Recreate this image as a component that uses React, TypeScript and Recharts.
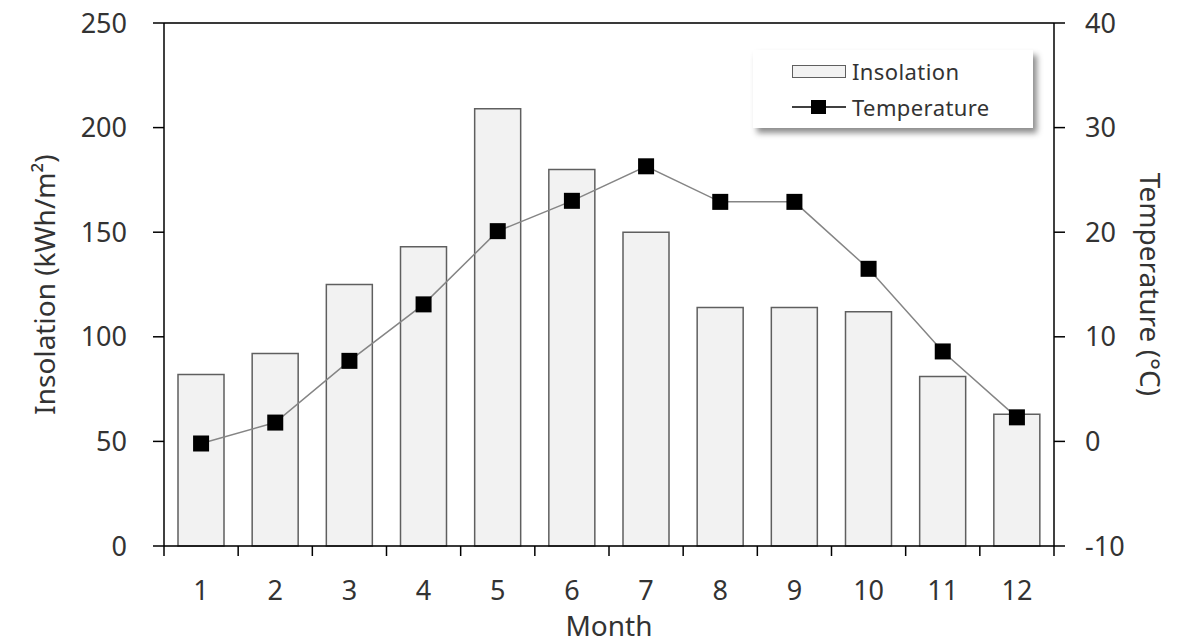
import React from 'react';
import {
  ComposedChart,
  Bar,
  Line,
  XAxis,
  YAxis,
  CartesianGrid,
  ReferenceLine,
} from 'recharts';

// ── Data ───────────────────────────────────────────────────────────────────
const MONTHS = ['1', '2', '3', '4', '5', '6', '7', '8', '9', '10', '11', '12'];
const INSOLATION = [82, 92, 125, 143, 209, 180, 150, 114, 114, 112, 81, 63];
const TEMPERATURE = [-0.2, 1.8, 7.7, 13.1, 20.1, 23.0, 26.3, 22.9, 22.9, 16.5, 8.6, 2.3];
const LEFT_TICKS = [0, 50, 100, 150, 200, 250];
const RIGHT_TICKS = [-10, 0, 10, 20, 30, 40];

const rows = MONTHS.map((m, i) => ({
  month: m,
  insolation: INSOLATION[i],
  temperature: TEMPERATURE[i],
}));

// ── Layout ─────────────────────────────────────────────────────────────────
const W = 1190;
const H = 644;
const LEFT_W = 164;
const RIGHT_W = 136;
const TOP = 23;
const X_H = 98;
const BAND = (W - LEFT_W - RIGHT_W) / MONTHS.length;

const FONT = '"Noto Sans", "Open Sans", sans-serif';
const TEXT = '#333333';
const BAR_FILL = '#f2f2f2';
const BAR_STROKE = '#5f5f5f';
const LINE = '#858585';

// x ticks sit on the category boundaries, labels in the middle
function MonthTick(props: any) {
  const { x, y, payload, index } = props;
  const half = BAND / 2;
  return (
    <g>
      <line x1={x - half} x2={x - half} y1={y} y2={y + 10} stroke="#000" strokeWidth={1.5} />
      {index === MONTHS.length - 1 && (
        <line x1={x + half} x2={x + half} y1={y} y2={y + 10} stroke="#000" strokeWidth={1.5} />
      )}
      <text
        x={x}
        y={y + 47}
        textAnchor="middle"
        dominantBaseline="middle"
        fontSize={27}
        fontFamily={FONT}
        fill={TEXT}
      >
        {payload.value}
      </text>
    </g>
  );
}

function SquareDot(props: any) {
  const { cx, cy } = props;
  if (cx == null || cy == null) return null;
  return <rect x={cx - 8} y={cy - 8} width={16} height={16} fill="#000" />;
}

function LegendBox() {
  const row: React.CSSProperties = {
    display: 'flex',
    alignItems: 'center',
    height: 36,
  };
  const label: React.CSSProperties = {
    marginLeft: 6,
    fontSize: 22,
    color: TEXT,
    fontFamily: FONT,
    letterSpacing: 0.4,
  };
  return (
    <div
      style={{
        position: 'absolute',
        left: 753,
        top: 50,
        width: 280,
        height: 78,
        background: '#fff',
        boxShadow: '4px 5px 6px rgba(0,0,0,0.45)',
        boxSizing: 'border-box',
        paddingLeft: 39,
        paddingTop: 3,
      }}
    >
      <div style={row}>
        <div
          style={{
            width: 54,
            height: 13,
            background: BAR_FILL,
            border: `1.5px solid ${BAR_STROKE}`,
            boxSizing: 'border-box',
          }}
        />
        <span style={label}>Insolation</span>
      </div>
      <div style={row}>
        <svg width={54} height={16}>
          <line x1={0} x2={54} y1={8} y2={8} stroke="#000" strokeWidth={1.5} />
          <rect x={19} y={1} width={15} height={14} fill="#000" />
        </svg>
        <span style={label}>Temperature</span>
      </div>
    </div>
  );
}

export default function App() {
  const tickStyle = { fontSize: 27, fontFamily: FONT, fill: TEXT };
  const titleStyle = { fontSize: 28, fontFamily: FONT, fill: TEXT, textAnchor: 'middle' as const };

  return (
    <div style={{ position: 'absolute', left: 0, top: 0, width: W, height: H, background: '#fff' }}>
      <ComposedChart
        width={W}
        height={H}
        data={rows}
        margin={{ top: TOP, right: 0, bottom: 0, left: 0 }}
      >
        <CartesianGrid vertical={false} stroke="#d9d9d9" strokeWidth={1.5} />
        <XAxis
          dataKey="month"
          height={X_H}
          axisLine={{ stroke: '#000', strokeWidth: 1.5 }}
          tickLine={false}
          tickSize={0}
          tickMargin={0}
          interval={0}
          tick={<MonthTick />}
          label={{ value: 'Month', position: 'insideBottom', offset: 8, style: titleStyle }}
        />
        <YAxis
          yAxisId="left"
          width={LEFT_W}
          domain={[0, 250]}
          ticks={LEFT_TICKS}
          axisLine={{ stroke: '#000', strokeWidth: 1.5 }}
          tickLine={{ stroke: '#000', strokeWidth: 1.5 }}
          tickSize={11}
          tickMargin={26}
          tick={tickStyle}
          label={{
            value: 'Insolation (kWh/m²)',
            angle: -90,
            position: 'insideLeft',
            offset: 45,
            style: titleStyle,
          }}
        />
        <YAxis
          yAxisId="right"
          orientation="right"
          width={RIGHT_W}
          domain={[-10, 40]}
          ticks={RIGHT_TICKS}
          axisLine={{ stroke: '#000', strokeWidth: 1.5 }}
          tickLine={{ stroke: '#000', strokeWidth: 1.5 }}
          tickSize={11}
          tickMargin={20}
          tick={tickStyle}
          label={{
            value: 'Temperature (°C)',
            angle: 90,
            position: 'insideRight',
            offset: 40,
            style: titleStyle,
          }}
        />
        <ReferenceLine yAxisId="left" y={250} stroke="#000" strokeWidth={1.5} />
        <Bar
          yAxisId="left"
          dataKey="insolation"
          barSize={46}
          fill={BAR_FILL}
          stroke={BAR_STROKE}
          strokeWidth={1.5}
          isAnimationActive={false}
        />
        <Line
          yAxisId="right"
          dataKey="temperature"
          type="linear"
          stroke={LINE}
          strokeWidth={1.5}
          dot={<SquareDot />}
          activeDot={false}
          isAnimationActive={false}
        />
      </ComposedChart>
      <LegendBox />
    </div>
  );
}
